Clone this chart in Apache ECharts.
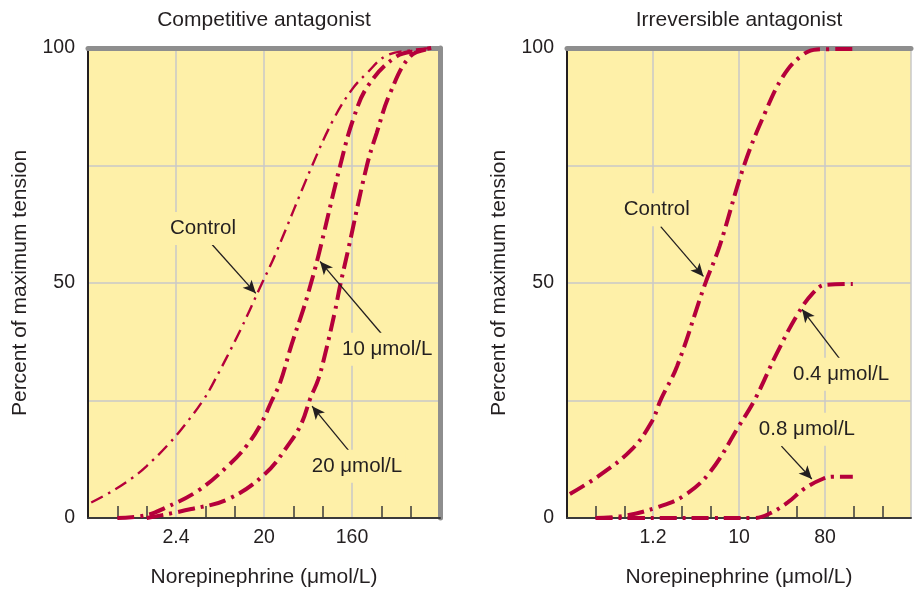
<!DOCTYPE html>
<html><head><meta charset="utf-8">
<script src="https://cdn.jsdelivr.net/npm/echarts@6/dist/echarts.min.js"></script>
<style>html,body{margin:0;padding:0;background:#fff}#c{width:914px;height:593px}</style>
</head><body><div id="c"></div>
<script>
// ---------- text ----------
const leftTitle = 'Competitive antagonist';
const rightTitle = 'Irreversible antagonist';
const xName = 'Norepinephrine (\u03bcmol/L)';
const yName = 'Percent of maximum tension';
// x positions are doubling steps of norepinephrine concentration along the log axis
const leftTickLabels = {3: '2.4', 6: '20', 9: '160'};
const rightTickLabels = {3: '1.2', 6: '10', 9: '80'};
const yTickLabels = {0: '0', 50: '50', 100: '100'};

// ---------- data: [doubling step, percent of maximum tension] ----------
const compControl = [[0.11,3.3],[0.74,5.4],[1.48,8.4],[1.99,11.0],[2.73,15.6],[3.3,19.8],[3.92,25],[4.26,28.6],[5.18,39.8],[5.86,49],[6.38,56],[7.63,74.8],[8.36,84.7],[8.99,91.1],[9.5,94.6],[10.18,98.4],[11.1,99.6],[11.7,100]];
const comp10 = [[1,0],[1.99,0.6],[2.61,2.1],[3.75,5.8],[4.77,11.1],[5.41,15.4],[5.92,20.3],[6.26,24.9],[6.55,28.8],[6.94,36.9],[7.34,44.4],[7.51,47.9],[7.85,55.7],[8.59,74.8],[9.05,85],[9.56,92.1],[10.52,98.2],[11.32,99.5],[11.7,100]];
const comp20 = [[2,0],[3.52,1.9],[4.77,4],[6.02,9.3],[6.89,16.1],[7.29,20.3],[7.57,25.3],[7.85,29.5],[8.08,34.8],[8.42,44],[8.59,49.3],[8.87,57.1],[9.5,74.8],[9.84,81.9],[10.3,90.4],[10.98,98.2],[11.66,99.8]];
const irrControl = [[0.1,5.1],[1.12,9],[2.26,14.6],[2.94,20.3],[3.28,25.3],[3.84,32.3],[4.8,49.5],[5.32,57.8],[6.17,74.9],[6.9,86.1],[7.53,93.9],[8.15,98.2],[8.72,99.7],[9.97,99.8]];
const irr04 = [[1,0],[2.03,0.5],[3.16,2.3],[4.07,4.7],[4.98,9.7],[6,19.6],[6.56,25.3],[7.3,34.8],[8.04,43.3],[8.6,48],[9,49.6],[9.97,49.8]];
const irr08 = [[1,0],[3,0],[5,0],[6.5,0],[7.02,0.8],[7.7,3.3],[8.27,6.2],[8.95,8.4],[9.3,8.8],[9.97,8.8]];

// ---------- annotations: label, label position, arrow start, arrow tip ----------
const leftNotes = [
  {text: 'Control', at: [3.92, 61.6], from: [4.23, 58.2], to: [5.72, 47.8]},
  {text: '10 \u03bcmol/L', at: [10.2, 35.9], from: [10.02, 39.1], to: [7.91, 54.6]},
  {text: '20 \u03bcmol/L', at: [9.17, 11.0], from: [8.93, 14.0], to: [7.64, 23.8]}
];
const rightNotes = [
  {text: 'Control', at: [3.13, 65.6], from: [3.27, 62], to: [4.76, 51.4]},
  {text: '0.4 \u03bcmol/L', at: [9.56, 30.6], from: [9.56, 33.5], to: [8.2, 44.4]},
  {text: '0.8 \u03bcmol/L', at: [8.37, 18.9], from: [7.48, 15.3], to: [8.54, 8.3]}
];

// ---------- styles ----------
const FONT = "'Liberation Sans', Arial, Helvetica, sans-serif";
const FS = 21;      // titles, axis names
const FSN = 20.5;   // annotations
const FST = 19.5;   // tick labels
const TXT = '#231f20';
const BG = '#fef0a8';
const GRIDC = '#c9c9c9';
const RED = '#b5003b';
const BORDER = '#8e8e8e';
const thick = {color: RED, width: 4, type: [17, 6, 3, 6]};
const thin = {color: RED, width: 2.4, type: [13, 6, 2.5, 6]};

function bottomX(gi, labels) {
  return {
    gridIndex: gi, type: 'value', min: 0, max: 12, interval: 3, position: 'bottom',
    name: xName, nameLocation: 'middle', nameGap: 49,
    nameTextStyle: {fontSize: FS, color: TXT, fontFamily: FONT},
    axisLine: {show: true, onZero: false, lineStyle: {color: '#3a3a3a', width: 2}},
    axisTick: {show: false, inside: true},
    minorTick: {show: true, splitNumber: 3, length: 12, lineStyle: {color: '#3a3a3a', width: 1.5}},
    axisLabel: {formatter: v => labels[v] || '', fontSize: FST, color: TXT, fontFamily: FONT, margin: 10},
    splitLine: {show: true, lineStyle: {color: GRIDC, width: 1.5}}
  };
}
function topX(gi, title) {
  return {
    gridIndex: gi, type: 'value', min: 0, max: 12, interval: 3, position: 'top',
    name: title, nameLocation: 'middle', nameGap: 17,
    nameTextStyle: {fontSize: FS, color: TXT, fontFamily: FONT},
    axisLine: {show: true, onZero: false, lineStyle: {color: BORDER, width: 5}},
    axisTick: {show: false}, axisLabel: {show: false}, splitLine: {show: false}
  };
}
function leftY(gi) {
  return {
    gridIndex: gi, type: 'value', min: 0, max: 100, interval: 25, position: 'left',
    name: yName, nameLocation: 'middle', nameGap: 57, nameRotate: 90,
    nameTextStyle: {fontSize: FS, color: TXT, fontFamily: FONT},
    axisLine: {show: true, onZero: false, lineStyle: {color: TXT, width: 2}},
    axisTick: {show: false},
    axisLabel: {formatter: v => yTickLabels[v] || '', fontSize: FST, color: TXT, fontFamily: FONT, margin: 13},
    splitLine: {show: true, lineStyle: {color: GRIDC, width: 1.5}}
  };
}
function line(xi, yi, data, style, notes) {
  const s = {
    type: 'line', xAxisIndex: xi, yAxisIndex: yi, data: data,
    showSymbol: false, smooth: 0.4, z: 3,
    lineStyle: style, silent: true
  };
  if (notes) {
    s.markLine = {
      silent: true, symbol: ['none', 'arrow'], symbolSize: [9, 13], animation: false,
      lineStyle: {color: TXT, width: 1.3, type: 'solid'}, label: {show: false},
      data: notes.map(n => [{coord: n.from}, {coord: n.to}])
    };
    s.markPoint = {
      silent: true, symbol: 'rect', symbolSize: 1, animation: false,
      itemStyle: {color: 'rgba(0,0,0,0)'},
      label: {show: true, position: 'inside', formatter: '{b}', fontSize: FSN, color: TXT,
              fontFamily: FONT, backgroundColor: BG, padding: [6, 3]},
      data: notes.map(n => ({name: n.text, coord: n.at}))
    };
  }
  return s;
}

const chart = echarts.init(document.getElementById('c'), null, {renderer: 'canvas'});
chart.setOption({
  animation: false,
  backgroundColor: '#ffffff',
  textStyle: {fontFamily: FONT},
  grid: [
    {left: 88, top: 48, width: 352, height: 471, show: true, backgroundColor: BG, borderWidth: 0},
    {left: 567, top: 48, width: 352.8, height: 471, show: true, backgroundColor: BG, borderWidth: 0}
  ],
  xAxis: [bottomX(0, leftTickLabels), topX(0, leftTitle), bottomX(1, rightTickLabels), topX(1, rightTitle)],
  yAxis: [
    leftY(0),
    {gridIndex: 0, type: 'value', min: 0, max: 100, position: 'right',
     axisLine: {show: true, onZero: false, lineStyle: {color: BORDER, width: 5}},
     axisTick: {show: false}, axisLabel: {show: false}, splitLine: {show: false}},
    leftY(1)
  ],
  series: [
    line(0, 0, compControl, thin, leftNotes),
    line(0, 0, comp10, thick),
    line(0, 0, comp20, thick),
    line(2, 2, irrControl, thick, rightNotes),
    line(2, 2, irr04, thick),
    line(2, 2, irr08, thick)
  ]
});
</script>
</body></html>
